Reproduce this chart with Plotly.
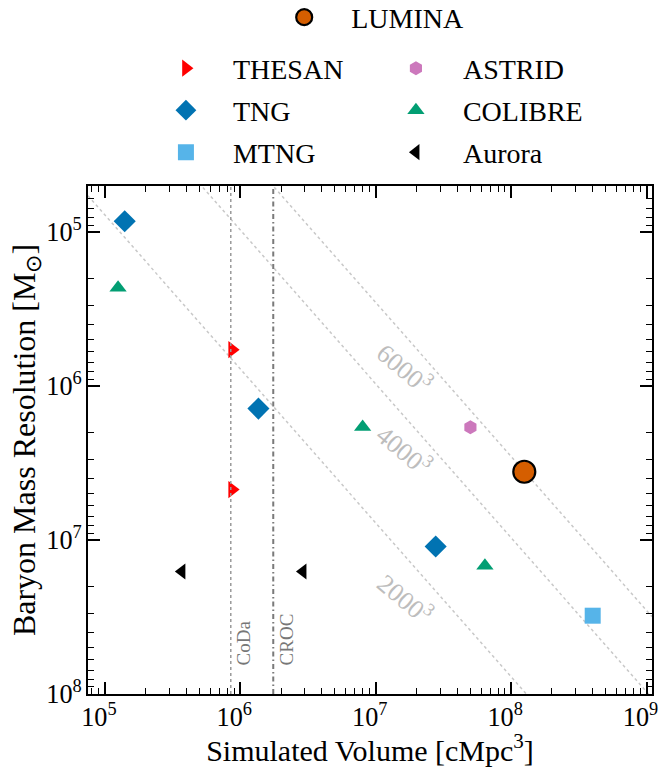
import numpy as np
import plotly.graph_objects as go

# ---------------- data ----------------
THESAN_V = [8.7e5, 8.7e5]
THESAN_M = [5.8e5, 4.7e6]
TNG_V = [1.4e5, 1.36e6, 2.77e7]
TNG_M = [8.5e4, 1.4e6, 1.1e7]
MTNG_V = [4.0e8]
MTNG_M = [3.1e7]
ASTRID_V = [5.0e7]
ASTRID_M = [1.85e6]
COLIBRE_V = [1.25e5, 8.0e6, 6.4e7]
COLIBRE_M = [2.3e5, 1.84e6, 1.47e7]
AURORA_V = [3.7e5, 2.9e6]
AURORA_M = [1.6e7, 1.6e7]
LUMINA_V = [1.25e8]
LUMINA_M = [3.6e6]

CODA_V = 8.5e5
CROC_V = 1.75e6

N_PART = [2000, 4000, 6000]          # N^3 particle-number reference lines
RHO_B = 6.19e9                       # mean baryon density [Msun / cMpc^3]
LABEL_V = [1.85e7, 1.8e7, 1.8e7]     # where the N^3 labels sit along each line
LABEL_SHIFT = [-34, -26, -26]

X_RANGE_LOG = [4.875, 9.04]
Y_RANGE_LOG = [8.0, 4.70]

FONT = "'Liberation Serif', 'Times New Roman', Times, serif"

fig = go.Figure()

# N^3 diagonal lines
v_line = np.array([10 ** X_RANGE_LOG[0], 10 ** X_RANGE_LOG[1]])
for n in N_PART:
    fig.add_trace(go.Scatter(
        x=v_line, y=v_line * RHO_B / n ** 3, mode="lines",
        line=dict(color="#c8c8c8", width=1.5, dash="dot"),
        showlegend=False, hoverinfo="skip"))

# vertical reference lines (CoDa, CROC)
fig.add_vline(x=CODA_V, line=dict(color="#9a9a9a", width=1.5, dash="dot"))
fig.add_vline(x=CROC_V, line=dict(color="#7a7a7a", width=2,
                                  dash="5px,3px,1.5px,3px"))

# (name, V, M, symbol, colour, size, legend row)
series = [
    ("THESAN", THESAN_V, THESAN_M, "triangle-right", "#ff0000", 15, "legend2"),
    ("ASTRID", ASTRID_V, ASTRID_M, "hexagon", "#cc78bc", 14, "legend2"),
    ("TNG", TNG_V, TNG_M, "diamond", "#0173b2", 17, "legend3"),
    ("COLIBRE", COLIBRE_V, COLIBRE_M, "triangle-up", "#029e73", 15, "legend3"),
    ("MTNG", MTNG_V, MTNG_M, "square", "#56b4e9", 16, "legend4"),
    ("Aurora", AURORA_V, AURORA_M, "triangle-left", "#000000", 14, "legend4"),
]
for name, vx, my, sym, col, sz, lg in series:
    fig.add_trace(go.Scatter(
        x=vx, y=my, mode="markers", name=name, legend=lg,
        marker=dict(symbol=sym, color=col, size=sz, line=dict(width=0))))

fig.add_trace(go.Scatter(
    x=LUMINA_V, y=LUMINA_M, mode="markers", name="LUMINA", legend="legend",
    marker=dict(symbol="circle", color="#d55e00", size=22,
                line=dict(color="black", width=2.2))))

# labels on the N^3 lines
for n, vl, ys in zip(N_PART, LABEL_V, LABEL_SHIFT):
    fig.add_annotation(
        x=np.log10(vl), y=np.log10(vl * RHO_B / n ** 3),
        text=f"{n}<sup>3</sup>", showarrow=False, textangle=40,
        xshift=-6, yshift=ys,
        font=dict(family=FONT, size=26, color="#bdbdbd"))

# CoDa / CROC labels
for lab, vx in [("CoDa", CODA_V), ("CROC", CROC_V)]:
    fig.add_annotation(
        x=np.log10(vx), xref="x", y=0.102, yref="paper",
        text=lab, showarrow=False, textangle=-90, xshift=13, yshift=-25,
        font=dict(family=FONT, size=19, color="#777777"))

axis_common = dict(
    type="log", showline=True, linecolor="black", linewidth=2, mirror="allticks",
    ticks="inside", ticklen=12, tickwidth=1.5, tickcolor="black",
    dtick=1, exponentformat="power", showgrid=False, zeroline=False,
    ticklabeloverflow="allow",
    minor=dict(ticks="inside", ticklen=6, tickwidth=1.2, tickcolor="black",
               dtick="D1", showgrid=False),
    tickfont=dict(family=FONT, size=21, color="black"),
)

legend_common = dict(xanchor="left", yanchor="top", orientation="h",
                     itemwidth=84, bgcolor="rgba(0,0,0,0)",
                     font=dict(family=FONT, size=28))

fig.update_layout(
    width=659, height=767,
    margin=dict(l=88, r=7, t=186, b=73, autoexpand=False),
    paper_bgcolor="white", plot_bgcolor="white",
    font=dict(family=FONT, color="black"),
    xaxis=dict(axis_common, range=X_RANGE_LOG, ticklabelshift=-6,
               title=dict(text="Simulated Volume [cMpc<sup>3</sup>]",
                          font=dict(family=FONT, size=30), standoff=5)),
    yaxis=dict(axis_common, range=Y_RANGE_LOG,
               title=dict(text="Baryon Mass Resolution [M<sub>⊙</sub>]",
                          font=dict(family=FONT, size=32), standoff=0)),
    legend=dict(legend_common, x=0.30, y=1.381),
    legend2=dict(legend_common, x=0.0903, y=1.2805, entrywidth=131),
    legend3=dict(legend_common, x=0.0903, y=1.1978, entrywidth=131),
    legend4=dict(legend_common, x=0.0903, y=1.1152, entrywidth=131),
)

fig.write_html("out.html")
